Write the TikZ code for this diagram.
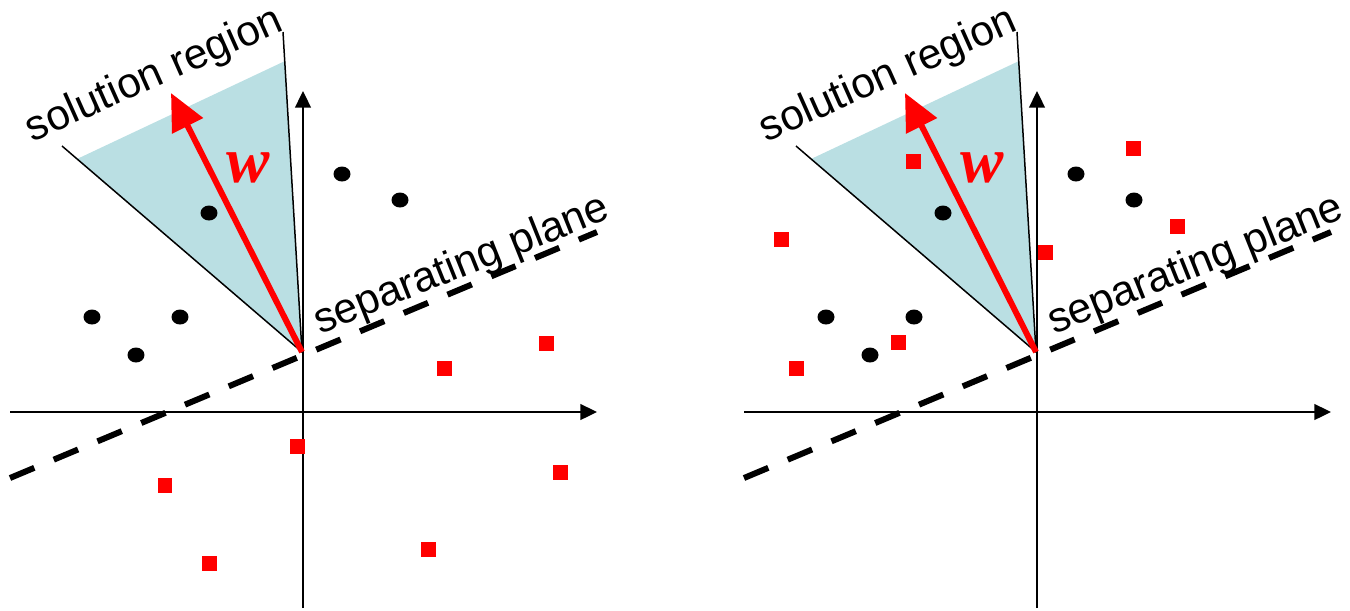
\documentclass[tikz,border=0pt]{standalone}
\usepackage{fontspec}
\setmainfont{Liberation Sans}
\newfontfamily\wfont{Liberation Serif}
\usetikzlibrary{arrows.meta, shapes.geometric}
\definecolor{conefill}{RGB}{186,223,227}
\definecolor{ptred}{RGB}{255,0,0}

\begin{document}
\begin{tikzpicture}[x=0.02cm, y=-0.02cm,
    axis/.style={line width=1.1pt, -{Triangle[length=9.5pt,width=9pt]}},
    coneedge/.style={line width=0.85pt},
    wvec/.style={ptred, line width=3.4pt, -{Triangle[length=21pt,width=19pt]}},
    plane/.style={line width=3.4pt, dash pattern=on 15pt off 12pt},
    dot/.style={ellipse, fill=black, minimum width=0.34cm, minimum height=0.3cm, inner sep=0pt},
    sq/.style={rectangle, fill=ptred, minimum size=0.3cm, inner sep=0pt},
    lbl/.style={font=\fontsize{24.2pt}{29pt}\selectfont, inner sep=0pt, anchor=base},
    wlbl/.style={ptred, font=\wfont\bfseries\itshape\fontsize{37pt}{41pt}\selectfont, inner sep=0pt}]
  \useasboundingbox (0,0) rectangle (1350,610);

  % both panels: axes, cone, w, separating plane, circles
  \foreach \off/\pn in {0/L, 734/R}{
    \begin{scope}[shift={(\off,0)}, name prefix=\pn-]
      \coordinate (apex) at (302,352);
      \coordinate (cl) at (62,146);
      \coordinate (cr) at (283,32);
      \coordinate (fl) at (77,159);
      \coordinate (fr) at (285,61);
      \fill[conefill] (apex) -- (fl) -- (fr) -- cycle;
      \draw[coneedge] (cl) -- (apex) -- (cr);
      % axes
      \coordinate (xl) at (10,412);
      \coordinate (xr) at (597,412);
      \coordinate (yb) at (303,608);
      \coordinate (yt) at (303,91);
      \draw[axis] (xl) -- (xr);
      \draw[axis] (yb) -- (yt);
      % separating plane
      \coordinate (pl) at (10,478);
      \coordinate (pr) at (597,232);
      \draw[plane] (pl) -- (pr);
      % class 1
      \foreach \p [count=\i] in {(209,213), (92,317), (180,317), (136,355), (342,174), (400,200)}
        \node[dot] (c\i) at \p {};
      % weight vector
      \coordinate (wtip) at (171,93);
      \draw[wvec] (apex) -- (wtip);
      \node[wlbl] (w) at (248,168) {w};
      \node[lbl, rotate=24] (sol) at (159,86) {solution region};
      \node[lbl, rotate=21.8] (sep) at (466,276) {separating plane};
    \end{scope}
  }

  % class 2, left panel
  \foreach \p [count=\i] in {(297,446), (165,485), (209,563), (428,549), (560,472), (546,343), (444,368)}
    \node[sq] (L-s\i) at \p {};

  % class 2, right panel
  \begin{scope}[shift={(734,0)}]
    \foreach \p [count=\i] in {(179,161), (47,239), (164,342), (62,368), (311,252), (399,148), (443,226)}
      \node[sq] (R-s\i) at \p {};
  \end{scope}
\end{tikzpicture}
\end{document}
